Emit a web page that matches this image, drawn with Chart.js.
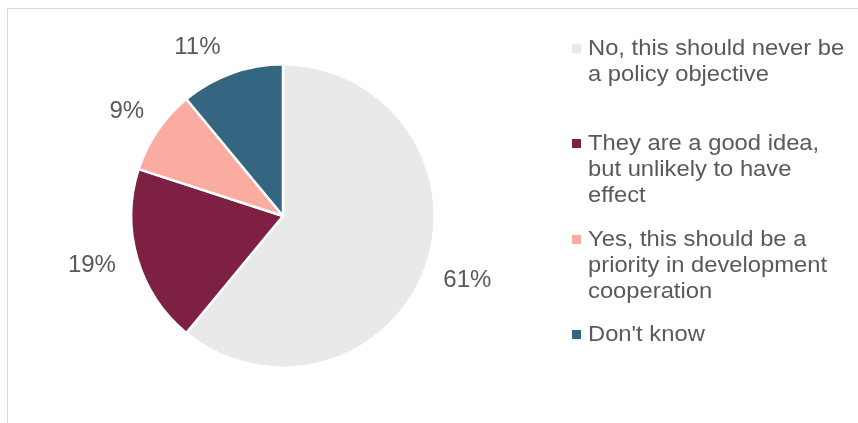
<!DOCTYPE html>
<html>
<head>
<meta charset="utf-8">
<script src="https://cdn.jsdelivr.net/npm/chart.js@4.4.1/dist/chart.umd.min.js"></script>
<style>
  body { margin: 0; background: #fff; }
  #wrap { position: relative; width: 858px; height: 423px; overflow: hidden; }
  #frame { position: absolute; left: 7px; top: 8px; width: 900px; height: 500px; border: 1px solid #d9d9d9; }
  #my-chart { position: absolute; left: 0; top: 0; }
  .legend-item { position: absolute; left: 572px; font-family: 'Liberation Sans', Arial, sans-serif; font-size: 22px; line-height: 26px; color: #595959; }
  .legend-item span.box { position: absolute; left: 0; top: 9px; width: 9px; height: 9px; }
  .legend-item div.txt { margin-left: 16px; white-space: nowrap; transform: scaleX(1.08); transform-origin: left center; }
</style>
</head>
<body>
<div id="wrap">
  <div id="frame"></div>
  <canvas id="my-chart" width="858" height="423"></canvas>
</div>
<script>
const categories = [
  ['No, this should never be', 'a policy objective'],
  ['They are a good idea,', 'but unlikely to have', 'effect'],
  ['Yes, this should be a', 'priority in development', 'cooperation'],
  ["Don't know"]
];
const shares = [61, 19, 9, 11];
const percentLabels = ['61%', '19%', '9%', '11%'];
const colors = ['#e9e9e9', '#7e1f44', '#fbaca1', '#356681'];

// excel "best fit" moves the labels a little off the slice middle
const labelNudge = [[2, -1], [-5, -5], [4, 4], [-20, 14]];

// legend, drawn as html text next to the pie
categories.forEach((lines, i) => {
  const item = document.createElement('div');
  item.className = 'legend-item';
  item.style.top = (35 + i * 95.3) + 'px';
  const box = document.createElement('span');
  box.className = 'box';
  box.style.background = colors[i];
  const txt = document.createElement('div');
  txt.className = 'txt';
  txt.innerHTML = lines.join('<br>');
  item.appendChild(box);
  item.appendChild(txt);
  document.getElementById('wrap').appendChild(item);
});

const outsideLabels = {
  id: 'outsideLabels',
  afterDatasetsDraw(chart) {
    const ctx = chart.ctx;
    const arcs = chart.getDatasetMeta(0).data;
    ctx.save();
    ctx.font = '24px "Liberation Sans", Arial, sans-serif';
    ctx.fillStyle = '#595959';
    ctx.textAlign = 'center';
    ctx.textBaseline = 'middle';
    arcs.forEach((arc, i) => {
      const mid = (arc.startAngle + arc.endAngle) / 2;
      const r = arc.outerRadius + 42;
      const x = arc.x + Math.cos(mid) * r + labelNudge[i][0];
      const y = arc.y + Math.sin(mid) * r + labelNudge[i][1];
      ctx.fillText(percentLabels[i], x, y);
    });
    ctx.restore();
  }
};

const ctx = document.getElementById('my-chart').getContext('2d');
const chart = new Chart(ctx, {
  type: 'pie',
  data: {
    labels: categories,
    datasets: [
      {
        data: shares,
        backgroundColor: colors,
        borderColor: '#ffffff',
        borderWidth: 2.5
      }
    ]
  },
  options: {
    responsive: false,
    animation: false,
    layout: { padding: { left: 130, right: 422, top: 63, bottom: 54 } },
    plugins: {
      legend: { display: false },
      tooltip: { enabled: false }
    }
  },
  plugins: [outsideLabels]
});
</script>
</body>
</html>
